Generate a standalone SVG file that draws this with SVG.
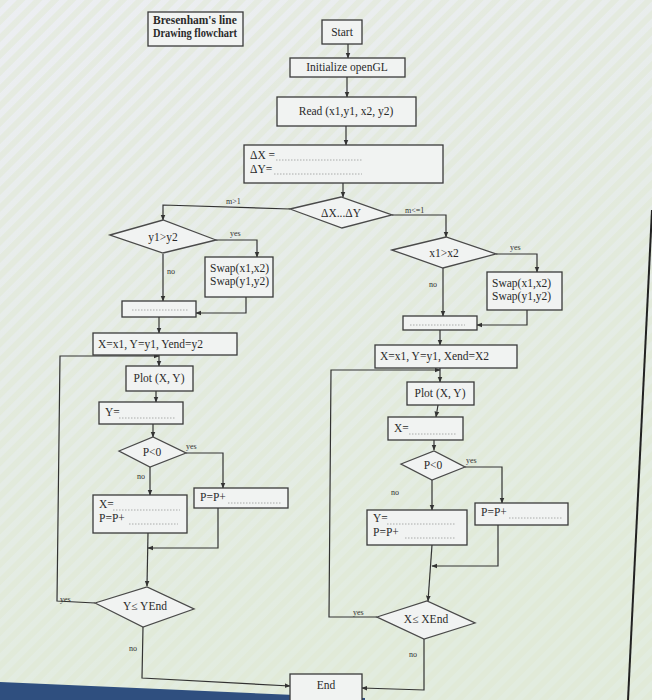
<svg xmlns="http://www.w3.org/2000/svg" width="652" height="700" viewBox="0 0 652 700">
<defs>
<linearGradient id="bg" x1="0" y1="0" x2="0.3" y2="1">
<stop offset="0" stop-color="#eceef2"/>
<stop offset="0.5" stop-color="#e6ece8"/>
<stop offset="1" stop-color="#e2ecdf"/>
</linearGradient>
<pattern id="stripes" width="12" height="12" patternUnits="userSpaceOnUse" patternTransform="rotate(-45)">
<rect width="12" height="6" fill="#dfe8d2" opacity="0.5"/>
</pattern>
<marker id="ah" viewBox="0 0 10 10" refX="9" refY="5" markerWidth="5" markerHeight="5" orient="auto">
<path d="M0,1 L10,5 L0,9 z" fill="#333"/>
</marker>
<style>
.b{fill:#f1f3f2;stroke:#3a3a3a;stroke-width:1.3}
.d{fill:#f1f3f2;stroke:#4a4a4a;stroke-width:1.3}
.t{font-family:"Liberation Serif","Times New Roman",serif;font-size:11.5px;fill:#2a2a2a}
.s{font-family:"Liberation Serif","Times New Roman",serif;font-size:8px;fill:#333}
.dot{stroke:#9a9a9a;stroke-width:0.8;stroke-dasharray:1.5 1.5;fill:none}
.c{fill:none;stroke:#333;stroke-width:1.2}
.ca{fill:none;stroke:#333;stroke-width:1.2;marker-end:url(#ah)}
</style>
</defs>
<rect width="652" height="700" fill="url(#bg)"/>
<rect width="652" height="700" fill="url(#stripes)"/>
<line x1="652" y1="210" x2="628" y2="700" stroke="#222" stroke-width="2"/>
<polygon points="0,682 365,698 365,700 0,700" fill="#2f4f7f"/>

<g id="title">
<rect class="b" x="148" y="12" width="95" height="34" stroke-width="1.8"/>
<text class="t" x="153" y="24" font-weight="bold" font-size="10">Bresenham's line</text>
<text class="t" x="153" y="37" font-weight="bold" font-size="10" textLength="84" lengthAdjust="spacingAndGlyphs">Drawing flowchart</text>
</g>

<g id="connectors">
<line class="ca" x1="348" y1="44" x2="348" y2="58"/>
<line class="ca" x1="347" y1="77" x2="347" y2="97"/>
<line class="ca" x1="346" y1="126" x2="346" y2="145"/>
<line class="ca" x1="343" y1="183" x2="343" y2="197"/>
<polyline class="ca" points="290,209 163,205 163,220"/>
<polyline class="ca" points="392,215 446,215 446,237"/>
<polyline class="ca" points="216,240 257,240 257,257"/>
<line class="ca" x1="163" y1="254" x2="163" y2="301"/>
<polyline class="ca" points="246,297 246,313 196,313"/>
<line class="ca" x1="159" y1="317" x2="159" y2="333"/>
<line class="ca" x1="159" y1="355" x2="159" y2="366"/>
<line class="ca" x1="156" y1="391" x2="156" y2="402"/>
<line class="ca" x1="153" y1="424" x2="153" y2="437"/>
<polyline class="ca" points="186,453 223,453 223,488"/>
<line class="ca" x1="150" y1="467" x2="150" y2="495"/>
<polyline class="ca" points="218,508 218,548 148,548"/>
<line class="ca" x1="148" y1="533" x2="147" y2="586"/>
<polyline class="ca" points="95,603 57,601 60,356 159,356"/>
<polyline class="ca" points="143,627 142,678 290,686"/>
<polyline class="ca" points="496,254 537,254 537,272"/>
<line class="ca" x1="443" y1="268" x2="443" y2="316"/>
<polyline class="ca" points="527,310 527,325 477,325"/>
<line class="ca" x1="440" y1="330" x2="440" y2="345"/>
<line class="ca" x1="440" y1="368" x2="440" y2="382"/>
<line class="ca" x1="438" y1="405" x2="436" y2="417"/>
<line class="ca" x1="434" y1="440" x2="434" y2="450"/>
<polyline class="ca" points="465,467 502,467 502,503"/>
<line class="ca" x1="432" y1="480" x2="432" y2="510"/>
<polyline class="ca" points="498,525 498,566 432,566"/>
<line class="ca" x1="432" y1="545" x2="428" y2="601"/>
<polyline class="ca" points="377,617 329,617 331,370 440,370"/>
<polyline class="ca" points="424,639 424,690 362,688"/>
</g>

<g id="labels">
<text class="s" x="226" y="204">m&gt;1</text>
<text class="s" x="405" y="213">m&lt;=1</text>
<text class="s" x="230" y="236">yes</text>
<text class="s" x="167" y="274">no</text>
<text class="s" x="510" y="250">yes</text>
<text class="s" x="429" y="287">no</text>
<text class="s" x="186" y="449">yes</text>
<text class="s" x="137" y="479">no</text>
<text class="s" x="466" y="463">yes</text>
<text class="s" x="391" y="495">no</text>
<text class="s" x="60" y="602">yes</text>
<text class="s" x="129" y="651">no</text>
<text class="s" x="353" y="615">yes</text>
<text class="s" x="409" y="657">no</text>
</g>

<g id="start"><rect class="b" x="322" y="20" width="40" height="24"/><text class="t" x="342" y="36" text-anchor="middle">Start</text></g>
<g id="init"><rect class="b" x="290" y="58" width="115" height="19"/><text class="t" x="347" y="71" text-anchor="middle">Initialize openGL</text></g>
<g id="read"><rect class="b" x="277" y="97" width="139" height="29"/><text class="t" x="346" y="115" text-anchor="middle">Read (x1,y1, x2, y2)</text></g>
<g id="delta"><rect class="b" x="244" y="145" width="199" height="38"/>
<text class="t" x="250" y="159">ΔX =</text><line class="dot" x1="276" y1="160" x2="362" y2="160"/>
<text class="t" x="250" y="173">ΔY=</text><line class="dot" x1="274" y1="174" x2="362" y2="174"/></g>
<g id="cmp"><polygon class="d" points="290,209 341,197 392,215 342,228"/><text class="t" x="341" y="217" text-anchor="middle">ΔX...ΔY</text></g>

<g id="y1y2"><polygon class="d" points="110,235 163,220 216,240 163,253"/><text class="t" x="163" y="241" text-anchor="middle">y1&gt;y2</text></g>
<g id="swapL"><rect class="b" x="205" y="257" width="68" height="40"/><text class="t" x="210" y="272">Swap(x1,x2)</text><text class="t" x="210" y="285">Swap(y1,y2)</text></g>
<g id="emptyL"><rect class="b" x="122" y="301" width="74" height="16"/><line class="dot" x1="132" y1="310" x2="188" y2="310"/></g>
<g id="initL"><rect class="b" x="93" y="333" width="144" height="22"/><text class="t" x="98" y="348">X=x1, Y=y1, Yend=y2</text></g>
<g id="plotL"><rect class="b" x="126" y="366" width="67" height="25"/><text class="t" x="159" y="382" text-anchor="middle">Plot (X, Y)</text></g>
<g id="yL"><rect class="b" x="99" y="402" width="84" height="22"/><text class="t" x="105" y="416">Y=</text><line class="dot" x1="119" y1="418" x2="176" y2="418"/></g>
<g id="pL"><polygon class="d" points="119,451 153,437 186,453 150,467"/><text class="t" x="152" y="456" text-anchor="middle">P&lt;0</text></g>
<g id="ppL"><rect class="b" x="194" y="488" width="94" height="20"/><text class="t" x="200" y="501">P=P+</text><line class="dot" x1="228" y1="503" x2="282" y2="503"/></g>
<g id="xpL"><rect class="b" x="93" y="495" width="94" height="38"/><text class="t" x="99" y="508">X=</text><line class="dot" x1="113" y1="510" x2="180" y2="510"/><text class="t" x="99" y="522">P=P+</text><line class="dot" x1="129" y1="524" x2="178" y2="524"/></g>
<g id="endL"><polygon class="d" points="95,603 147,587 194,609 143,627"/><text class="t" x="145" y="610" text-anchor="middle">Y≤ YEnd</text></g>

<g id="x1x2"><polygon class="d" points="392,250 446,237 496,254 443,268"/><text class="t" x="444" y="257" text-anchor="middle">x1&gt;x2</text></g>
<g id="swapR"><rect class="b" x="487" y="272" width="75" height="38"/><text class="t" x="492" y="287">Swap(x1,x2)</text><text class="t" x="492" y="300">Swap(y1,y2)</text></g>
<g id="emptyR"><rect class="b" x="403" y="316" width="74" height="14"/><line class="dot" x1="410" y1="325" x2="465" y2="325"/></g>
<g id="initR"><rect class="b" x="375" y="345" width="142" height="23"/><text class="t" x="380" y="360">X=x1, Y=y1, Xend=X2</text></g>
<g id="plotR"><rect class="b" x="407" y="382" width="67" height="23"/><text class="t" x="440" y="397" text-anchor="middle">Plot (X, Y)</text></g>
<g id="xR"><rect class="b" x="388" y="417" width="75" height="23"/><text class="t" x="394" y="432">X=</text><line class="dot" x1="409" y1="434" x2="456" y2="434"/></g>
<g id="pR"><polygon class="d" points="401,464 434,451 465,467 432,480"/><text class="t" x="433" y="469" text-anchor="middle">P&lt;0</text></g>
<g id="ppR"><rect class="b" x="475" y="503" width="93" height="22"/><text class="t" x="481" y="516">P=P+</text><line class="dot" x1="509" y1="518" x2="562" y2="518"/></g>
<g id="ypR"><rect class="b" x="367" y="510" width="100" height="35"/><text class="t" x="373" y="522">Y=</text><line class="dot" x1="387" y1="524" x2="455" y2="524"/><text class="t" x="373" y="536">P=P+</text><line class="dot" x1="405" y1="538" x2="455" y2="538"/></g>
<g id="endR"><polygon class="d" points="377,617 427,601 475,623 424,639"/><text class="t" x="426" y="623" text-anchor="middle">X≤ XEnd</text></g>

<g id="end"><rect class="b" x="290" y="674" width="72" height="28"/><text class="t" x="326" y="689" text-anchor="middle">End</text></g>
</svg>
